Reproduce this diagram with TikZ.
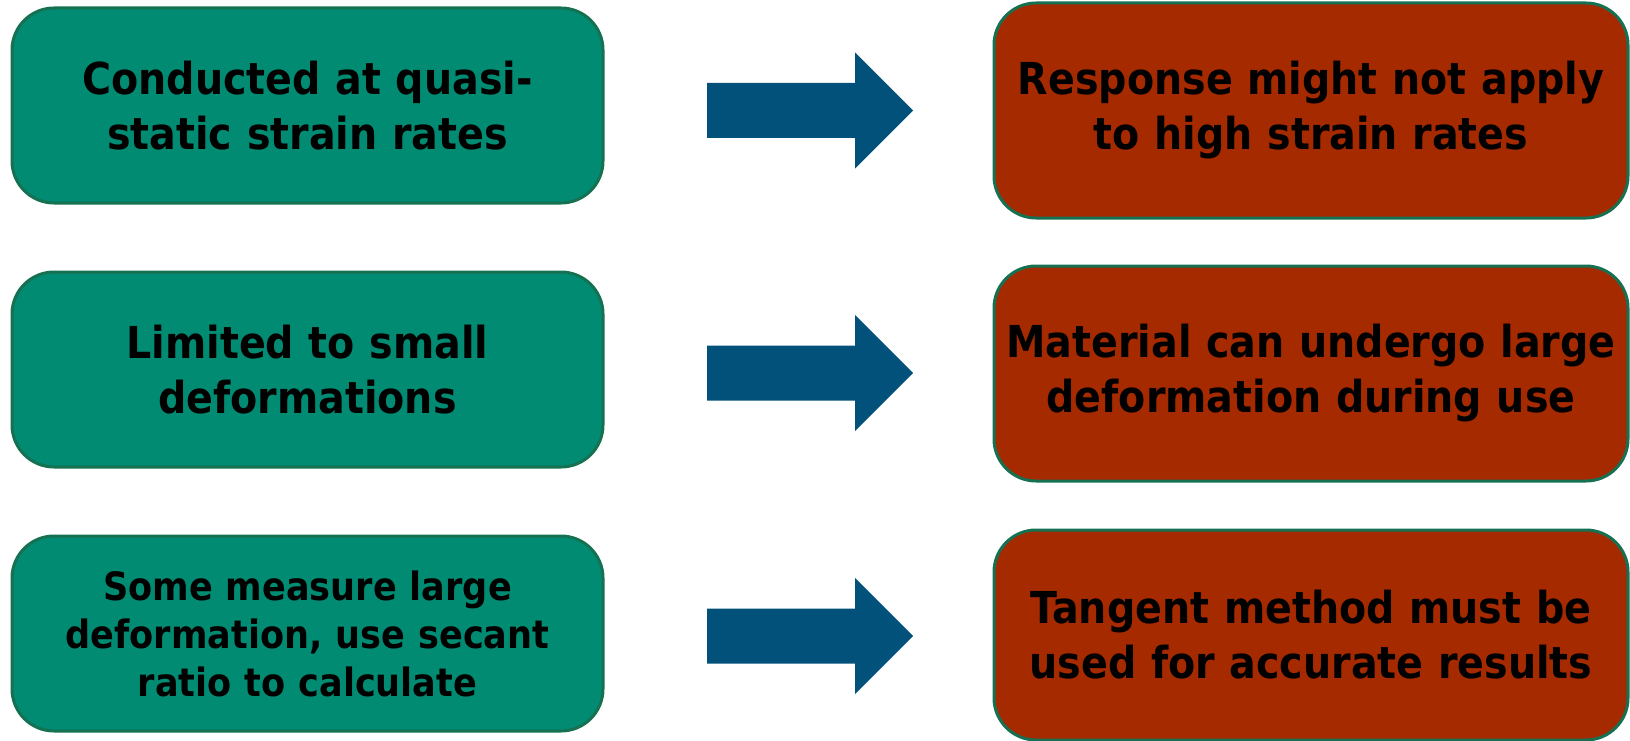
\documentclass[tikz,border=0pt]{standalone}
\usepackage{fontspec}
\newfontfamily\boxfont{DejaVu Sans Condensed}
\usepackage{tikz}
\usetikzlibrary{calc, positioning}
\definecolor{causegreen}{RGB}{0,139,114}
\definecolor{causeedge}{RGB}{22,112,82}
\definecolor{effectred}{RGB}{166,42,0}
\definecolor{arrowblue}{RGB}{2,81,122}
\tikzset{
	cause/.style={draw=causeedge, line width=3pt, fill=causegreen, rounded corners=42pt, minimum width=591pt, minimum height=195pt, inner xsep=2pt, text width=585pt, align=center, font=\boxfont\bfseries\fontsize{44}{55}\selectfont},
	effect/.style={cause, fill=effectred, minimum width=634pt, minimum height=215pt, text width=628pt}
}

\begin{document}
\begin{tikzpicture}[x=1pt, y=-1pt]
						\useasboundingbox (0,0) rectangle (1630,741);
						% left column
						\node [cause] (quasi) at (307.5,105.5) {Conducted at quasi-\\static strain rates};
						\node [cause] (small) at (307.5,369.5) {Limited to small\\deformations};
						\node [cause, font=\boxfont\bfseries\fontsize{39}{48}\selectfont] (secant) at (307.5,633.5) {Some measure large\\deformation, use secant\\ratio to calculate};
						% right column
						\node [effect] (highrate) at (1311,110.5) {Response might not apply\\to high strain rates};
						\node [effect] (largedef) at (1311,373.5) {Material can undergo large\\deformation during use};
						\node [effect, minimum height=210pt] (tangent) at (1311,635) {Tangent method must be\\used for accurate results};
						% block arrows
						\coordinate (a1) at (810,110.5);
						\coordinate (a2) at (810,373);
						\coordinate (a3) at (810,636);
						\fill [arrowblue, shift={(a1)}] (-103,-27.5) -- (45,-27.5) -- (45,-58) -- (103,0) -- (45,58) -- (45,27.5) -- (-103,27.5) -- cycle;
						\fill [arrowblue, shift={(a2)}] (-103,-27.5) -- (45,-27.5) -- (45,-58) -- (103,0) -- (45,58) -- (45,27.5) -- (-103,27.5) -- cycle;
						\fill [arrowblue, shift={(a3)}] (-103,-27.5) -- (45,-27.5) -- (45,-58) -- (103,0) -- (45,58) -- (45,27.5) -- (-103,27.5) -- cycle;
					\end{tikzpicture}
\end{document}
